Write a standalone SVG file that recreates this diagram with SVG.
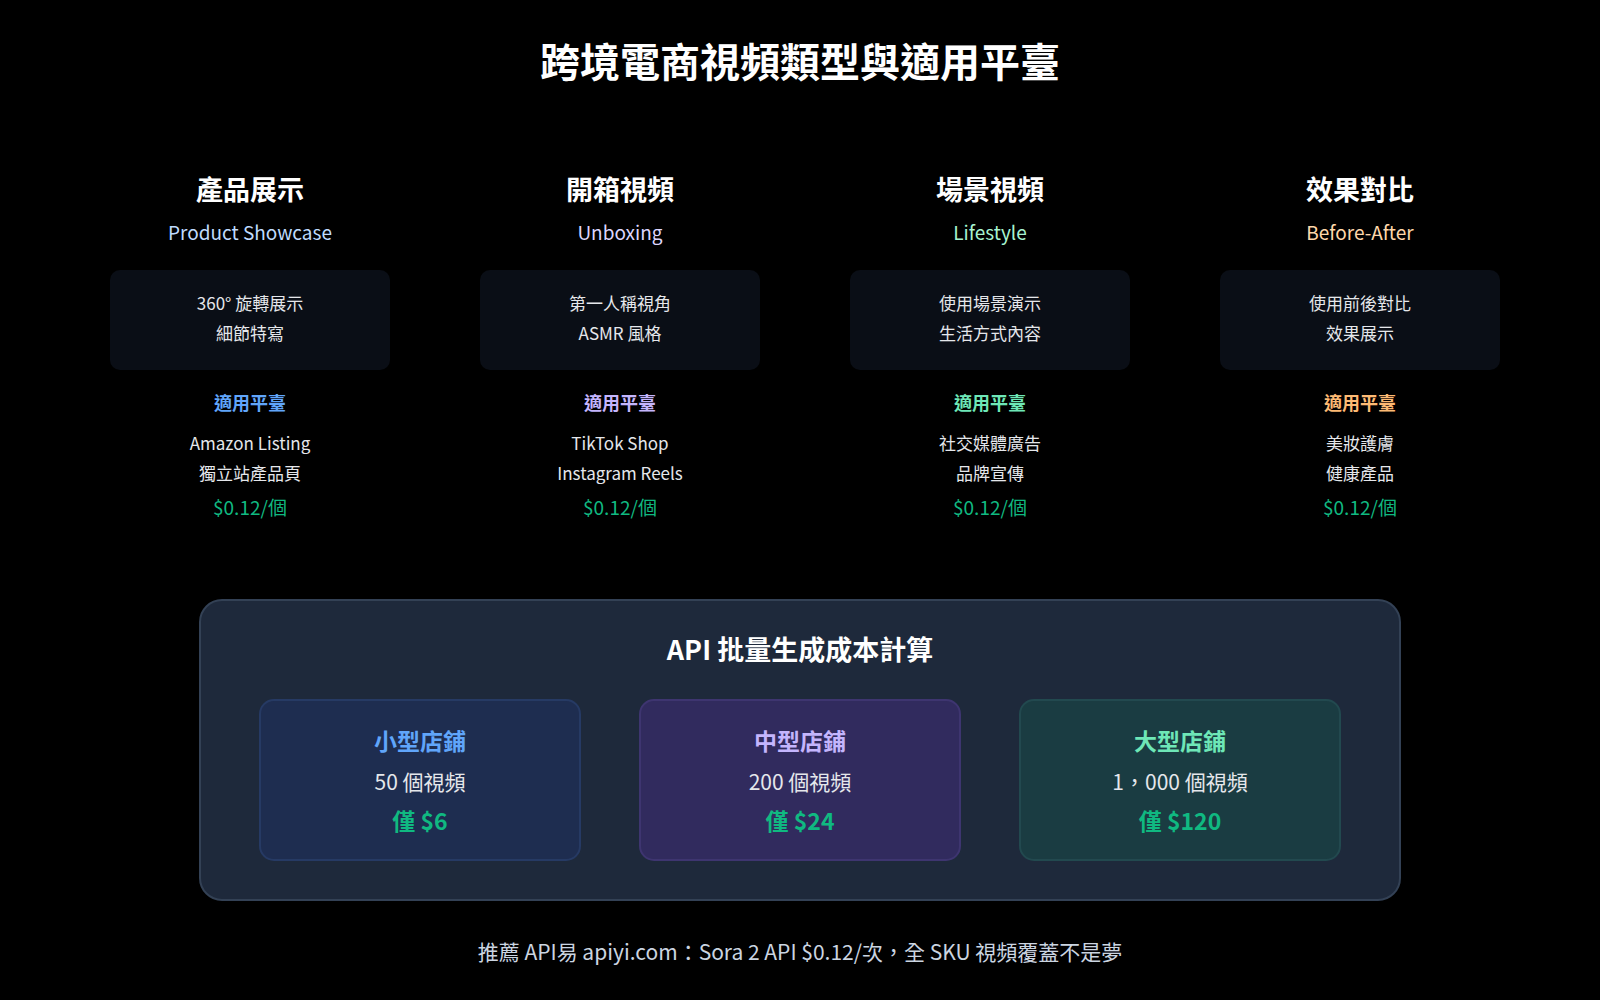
<svg xmlns="http://www.w3.org/2000/svg" width="1600" height="1000" viewBox="0 0 1600 1000">
<style>
text{font-family:"Noto Sans CJK TC","Noto Sans",sans-serif;text-anchor:middle}
.h{font-size:27px;font-weight:700;fill:#fff}
.s{font-size:19px}
.b{font-size:17px;fill:#e5e7eb}
.p{font-size:18px;font-weight:700}
.pr{font-size:19px;fill:#10b981}
.card{fill:#0a0e16}
.st{font-size:23px;font-weight:700}
.n{font-size:21px;fill:#e5e7eb}
.c{font-size:23px;font-weight:700;fill:#10b981}
</style>
<rect width="1600" height="1000" fill="#000"/>
<text x="800" y="77" font-size="40" font-weight="700" fill="#fff">跨境電商視頻類型與適用平臺</text>
<g id="col1">
<text class="h" x="250" y="200">產品展示</text><text class="s" x="250" y="240" fill="#bfdbfe">Product Showcase</text>
<rect class="card" x="110" y="270" width="280" height="100" rx="10"/>
<text class="b" x="250" y="310">360° 旋轉展示</text><text class="b" x="250" y="340">細節特寫</text>
<text class="p" x="250" y="410" fill="#60a5fa">適用平臺</text>
<text class="b" x="250" y="450">Amazon Listing</text><text class="b" x="250" y="480">獨立站產品頁</text>
<text class="pr" x="250" y="515">$0.12/個</text></g>
<g id="col2">
<text class="h" x="620" y="200">開箱視頻</text><text class="s" x="620" y="240" fill="#ddd6fe">Unboxing</text>
<rect class="card" x="480" y="270" width="280" height="100" rx="10"/>
<text class="b" x="620" y="310">第一人稱視角</text><text class="b" x="620" y="340">ASMR 風格</text>
<text class="p" x="620" y="410" fill="#c4b5fd">適用平臺</text>
<text class="b" x="620" y="450">TikTok Shop</text><text class="b" x="620" y="480">Instagram Reels</text>
<text class="pr" x="620" y="515">$0.12/個</text></g>
<g id="col3">
<text class="h" x="990" y="200">場景視頻</text><text class="s" x="990" y="240" fill="#a7f3d0">Lifestyle</text>
<rect class="card" x="850" y="270" width="280" height="100" rx="10"/>
<text class="b" x="990" y="310">使用場景演示</text><text class="b" x="990" y="340">生活方式內容</text>
<text class="p" x="990" y="410" fill="#6ee7b7">適用平臺</text>
<text class="b" x="990" y="450">社交媒體廣告</text><text class="b" x="990" y="480">品牌宣傳</text>
<text class="pr" x="990" y="515">$0.12/個</text></g>
<g id="col4">
<text class="h" x="1360" y="200">效果對比</text><text class="s" x="1360" y="240" fill="#fed7aa">Before-After</text>
<rect class="card" x="1220" y="270" width="280" height="100" rx="10"/>
<text class="b" x="1360" y="310">使用前後對比</text><text class="b" x="1360" y="340">效果展示</text>
<text class="p" x="1360" y="410" fill="#fdba74">適用平臺</text>
<text class="b" x="1360" y="450">美妝護膚</text><text class="b" x="1360" y="480">健康產品</text>
<text class="pr" x="1360" y="515">$0.12/個</text></g>
<g id="panel">
<rect x="200" y="600" width="1200" height="300" rx="22" fill="#1e293b" stroke="#334155" stroke-width="2"/>
<text x="800" y="660" font-size="27" font-weight="700" fill="#fff">API 批量生成成本計算</text>
</g>
<g id="small"><rect x="260" y="700" width="320" height="160" rx="14" fill="#1e2d50" stroke="#263a64" stroke-width="2"/>
<text class="st" x="420" y="750" fill="#60a5fa">小型店鋪</text><text class="n" x="420" y="790">50 個視頻</text><text class="c" x="420" y="830">僅 $6</text></g>
<g id="medium"><rect x="640" y="700" width="320" height="160" rx="14" fill="#312b5e" stroke="#3e3570" stroke-width="2"/>
<text class="st" x="800" y="750" fill="#c4b5fd">中型店鋪</text><text class="n" x="800" y="790">200 個視頻</text><text class="c" x="800" y="830">僅 $24</text></g>
<g id="large"><rect x="1020" y="700" width="320" height="160" rx="14" fill="#1a3c42" stroke="#22494f" stroke-width="2"/>
<text class="st" x="1180" y="750" fill="#6ee7b7">大型店鋪</text><text class="n" x="1180" y="790">1，000 個視頻</text><text class="c" x="1180" y="830">僅 $120</text></g>
<g id="connectors"/>
<text x="800" y="960" font-size="21" fill="#cbd5e1">推薦 API易 apiyi.com：Sora 2 API $0.12/次，全 SKU 視頻覆蓋不是夢</text>
</svg>
